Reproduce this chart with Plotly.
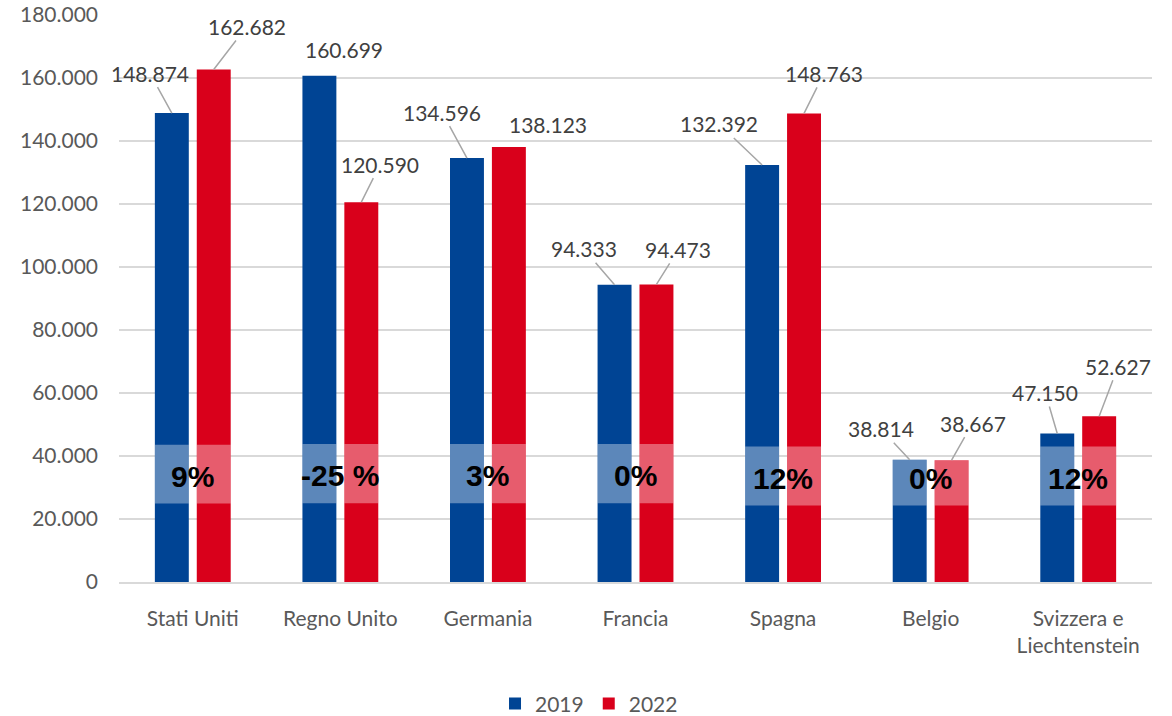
import plotly.graph_objects as go

COUNTRIES = ["Stati Uniti", "Regno Unito", "Germania", "Francia", "Spagna", "Belgio",
             "Svizzera e<br>Liechtenstein"]
VALUES_2019 = [148874, 160699, 134596, 94333, 132392, 38814, 47150]
VALUES_2022 = [162682, 120590, 138123, 94473, 148763, 38667, 52627]
PCT_LABELS = ["9%", "-25 %", "3%", "0%", "12%", "0%", "12%"]
BAND_LOW = [24900, 25000, 25000, 25000, 24300, 24300, 24300]
BAND_HIGH = [43600, 43800, 43800, 43800, 43000, 43000, 43000]
Y_TICKS = [0, 20000, 40000, 60000, 80000, 100000, 120000, 140000, 160000, 180000]

BLUE, RED = "#004494", "#D9001B"
TEXT = "#404040"
FONT = "Lato, 'Open Sans', sans-serif"
BAR_W, OFF = 0.23, 0.142

# pixel offsets label centre <- bar top, and whether Excel drew a leader line
LABEL_POS_2019 = [(-22, -40, True), (25, -26, False), (-25, -46, True), (-31, -36, True),
                  (-43, -41, True), (-29, -31, True), (-12, -41, True)]
LABEL_POS_2022 = [(33, -43, True), (19, -38, True), (39, -22, False), (22, -35, True),
                  (20, -40, True), (21, -37, True), (19, -50, True)]

idx = list(range(len(COUNTRIES)))


def fmt(v):
    return f"{v:,}".replace(",", ".")


fig = go.Figure()
for name, vals, color, sign in [("2019", VALUES_2019, BLUE, -1), ("2022", VALUES_2022, RED, 1)]:
    fig.add_trace(go.Bar(
        x=idx, y=vals, name=name, marker_color=color, marker_line_width=0,
        width=BAR_W, offset=-BAR_W / 2 + sign * OFF,
    ))
    # translucent band behind the percentage label
    tops = [min(h, v) for h, v in zip(BAND_HIGH, vals)]
    fig.add_trace(go.Bar(
        x=idx, y=[t - lo for t, lo in zip(tops, BAND_LOW)], base=BAND_LOW,
        marker_color="rgba(255,255,255,0.36)", marker_line_width=0,
        width=BAR_W, offset=-BAR_W / 2 + sign * OFF,
        showlegend=False, hoverinfo="skip",
    ))

annotations = []
for vals, pos, sign in [(VALUES_2019, LABEL_POS_2019, -1), (VALUES_2022, LABEL_POS_2022, 1)]:
    for i, (v, (ax, ay, line)) in enumerate(zip(vals, pos)):
        annotations.append(dict(
            x=i + sign * OFF, y=v, text=fmt(v), showarrow=True, arrowhead=0,
            arrowwidth=1.5, arrowcolor="#a6a6a6" if line else "rgba(0,0,0,0)",
            ax=ax, ay=ay, standoff=0, font=dict(family=FONT, size=21, color=TEXT),
        ))
for i, lab in enumerate(PCT_LABELS):
    annotations.append(dict(
        x=i, y=(BAND_LOW[i] + BAND_HIGH[i]) / 2, text=f"<b>{lab}</b>", showarrow=False,
        yshift=-2, font=dict(family="'Liberation Sans', Arial, sans-serif", size=30, color="black"),
    ))

fig.update_layout(
    width=1172, height=716, barmode="overlay", separators=",.",
    paper_bgcolor="white", plot_bgcolor="white",
    margin=dict(l=119, r=20, t=15, b=134, autoexpand=False),
    font=dict(family=FONT, color="#595959", size=20),
    annotations=annotations,
    legend=dict(orientation="h", x=0.455, y=-0.215, xanchor="center", yanchor="middle",
                font=dict(size=21, color="#595959"), itemwidth=30),
    xaxis=dict(
        tickmode="array", tickvals=idx, ticktext=COUNTRIES, range=[-0.5, len(idx) - 0.5],
        showgrid=False, showline=True, linecolor="#d9d9d9", linewidth=1.5,
        ticks="", ticklabelstandoff=17, tickfont=dict(size=21), automargin=False,
    ),
    yaxis=dict(
        range=[0, 180000], tickvals=Y_TICKS, tickformat=",d",
        gridcolor="#d9d9d9", gridwidth=1.5, zeroline=False,
        ticks="", ticklabelstandoff=20, tickfont=dict(size=21), automargin=False,
    ),
)

# drop the browser's default 8px body margin so the figure fills the window
fig.write_html("out.html", config={"displayModeBar": False},
               post_script="document.body.style.margin = '0';")
